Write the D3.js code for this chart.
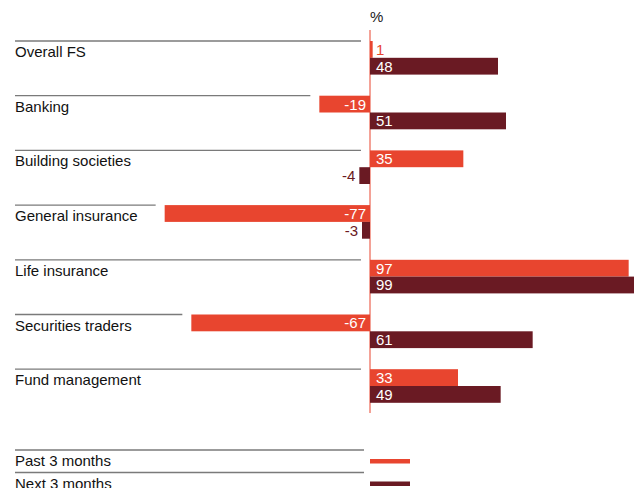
<!DOCTYPE html>
<html lang="en">
<head>
<meta charset="UTF-8">
<title>Business confidence by sector</title>
<style>
  body { margin: 0; background: #fff; }
  svg text { font-family: "Liberation Sans", Arial, sans-serif; font-size: 15px; }
</style>
</head>
<body>
<svg id="chart" width="641" height="488"></svg>
<script src="https://d3js.org/d3.v7.min.js"></script>
<script>
// data
var categories = ["Overall FS", "Banking", "Building societies", "General insurance",
                  "Life insurance", "Securities traders", "Fund management"];
var past3 = [1, -19, 35, -77, 97, -67, 33];
var next3 = [48, 51, -4, -3, 99, 61, 49];
var seriesNames = ["Past 3 months", "Next 3 months"];

var red = "#e8452f", maroon = "#6a1a23", grey = "#7a7a7a";

var svg = d3.select("#chart");

var x = d3.scaleLinear().domain([0, 99]).range([370, 634]);
var y = d3.scaleBand().domain(categories).range([41, 41 + 7 * 54.7]).paddingInner(0);
var barH = 16.8;

var rows = categories.map(function(c, i) {
  return { name: c, past: past3[i], next: next3[i] };
});

// zero line
svg.append("line")
  .attr("x1", x(0)).attr("x2", x(0))
  .attr("y1", 30).attr("y2", 413)
  .attr("stroke", red).attr("stroke-width", 1);

svg.append("text")
  .attr("x", x(0)).attr("y", 22)
  .attr("fill", "#222")
  .text("%");

var g = svg.selectAll(".row").data(rows).enter().append("g")
  .attr("class", "row")
  .attr("transform", function(d) { return "translate(0," + y(d.name) + ")"; });

// separator line, stops short of a negative past bar
g.append("line")
  .attr("x1", 15)
  .attr("x2", function(d) { return Math.min(x(0), x(d.past)) - 9; })
  .attr("y1", 0).attr("y2", 0)
  .attr("stroke", grey).attr("stroke-width", 1.3);

g.append("text")
  .attr("x", 15).attr("y", 16)
  .attr("fill", "#111")
  .text(function(d) { return d.name; });

function drawBar(key, offset, color) {
  g.append("rect")
    .attr("x", function(d) { return Math.min(x(0), x(d[key])); })
    .attr("y", offset)
    .attr("width", function(d) { return Math.abs(x(d[key]) - x(0)); })
    .attr("height", barH)
    .attr("fill", color);

  g.append("text")
    .attr("y", offset + barH / 2 + 5.5)
    .attr("x", function(d) {
      var v = d[key];
      if (v >= 0) return x(0) + 6;
      if (Math.abs(v) < 10) return x(v) - 4;
      return x(0) - 4;
    })
    .attr("text-anchor", function(d) { return d[key] < 0 ? "end" : "start"; })
    .attr("fill", function(d) { return Math.abs(d[key]) < 5 ? color : "#fff"; })
    .text(function(d) { return d[key]; });
}
drawBar("past", 0, red);
drawBar("next", barH, maroon);

// legend
var legend = svg.selectAll(".legend").data(seriesNames).enter().append("g")
  .attr("class", "legend")
  .attr("transform", function(d, i) { return "translate(0," + (450 + i * 22.5) + ")"; });

legend.append("line")
  .attr("x1", 15).attr("x2", 364)
  .attr("y1", 0).attr("y2", 0)
  .attr("stroke", grey).attr("stroke-width", 1.3);

legend.append("text")
  .attr("x", 15).attr("y", 16)
  .attr("fill", "#111")
  .text(function(d) { return d; });

legend.append("rect")
  .attr("x", 370).attr("y", 9)
  .attr("width", 40).attr("height", 4.5)
  .attr("fill", function(d, i) { return i === 0 ? red : maroon; });
</script>
</body>
</html>
